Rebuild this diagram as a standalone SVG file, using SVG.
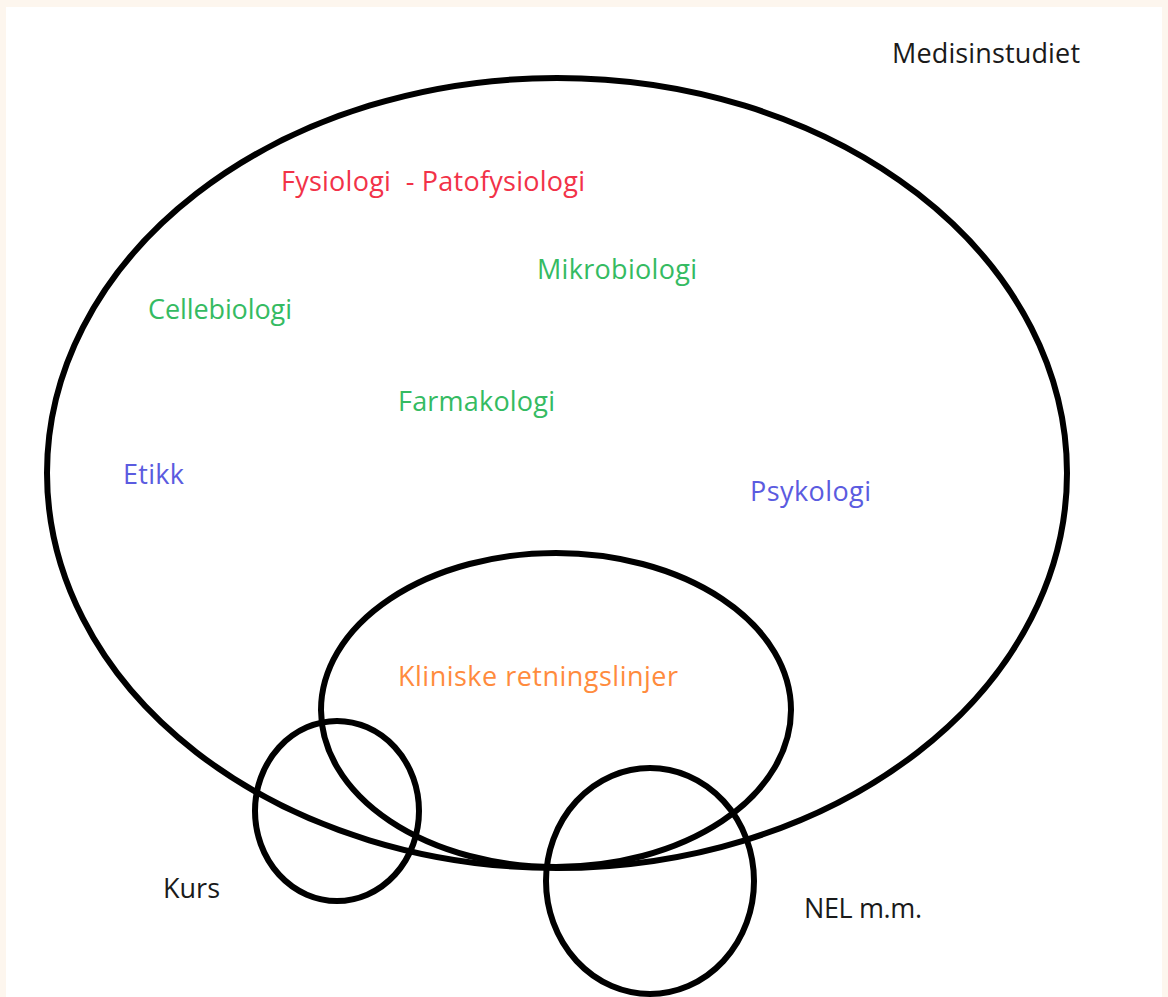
<svg xmlns="http://www.w3.org/2000/svg" width="1168" height="997" viewBox="0 0 1168 997">
<style>
.shape{fill:none;stroke:#000;stroke-width:6}
text{font-family:"Open Sans","Noto Sans",sans-serif;font-size:27px}
.blk{fill:#1a1a1a}.red{fill:#f23248}.grn{fill:#35bb62}.blu{fill:#5b5be0}.org{fill:#ff8b3d}
</style>
<rect x="0" y="0" width="1168" height="997" fill="#fdf6ee"/>
<rect x="6" y="7" width="1156" height="990" fill="#ffffff"/>
<g id="medisinstudiet">
<ellipse class="shape" cx="557" cy="473" rx="510" ry="395"/>
<text class="blk" x="892" y="63" textLength="188" lengthAdjust="spacing">Medisinstudiet</text>
</g>
<g id="fysiologi"><text class="red" x="281" y="191" xml:space="preserve" textLength="304" lengthAdjust="spacing">Fysiologi  - Patofysiologi</text></g>
<g id="mikrobiologi"><text class="grn" x="537" y="279" textLength="160" lengthAdjust="spacing">Mikrobiologi</text></g>
<g id="cellebiologi"><text class="grn" x="148" y="319" textLength="144" lengthAdjust="spacing">Cellebiologi</text></g>
<g id="farmakologi"><text class="grn" x="398" y="411" textLength="157" lengthAdjust="spacing">Farmakologi</text></g>
<g id="etikk"><text class="blu" x="123" y="484" textLength="61" lengthAdjust="spacing">Etikk</text></g>
<g id="psykologi"><text class="blu" x="750" y="501" textLength="121" lengthAdjust="spacing">Psykologi</text></g>
<g id="kliniske">
<ellipse class="shape" cx="556" cy="710" rx="235" ry="157"/>
<text class="org" x="398" y="686" textLength="280" lengthAdjust="spacing">Kliniske retningslinjer</text>
</g>
<g id="kurs">
<ellipse class="shape" cx="337" cy="811" rx="82" ry="90"/>
<text class="blk" x="163" y="898" textLength="57" lengthAdjust="spacing">Kurs</text>
</g>
<g id="nel">
<ellipse class="shape" cx="650" cy="881" rx="104" ry="113"/>
<text class="blk" x="804" y="918" textLength="118" lengthAdjust="spacing">NEL m.m.</text>
</g>
<g id="connectors"/>
</svg>
